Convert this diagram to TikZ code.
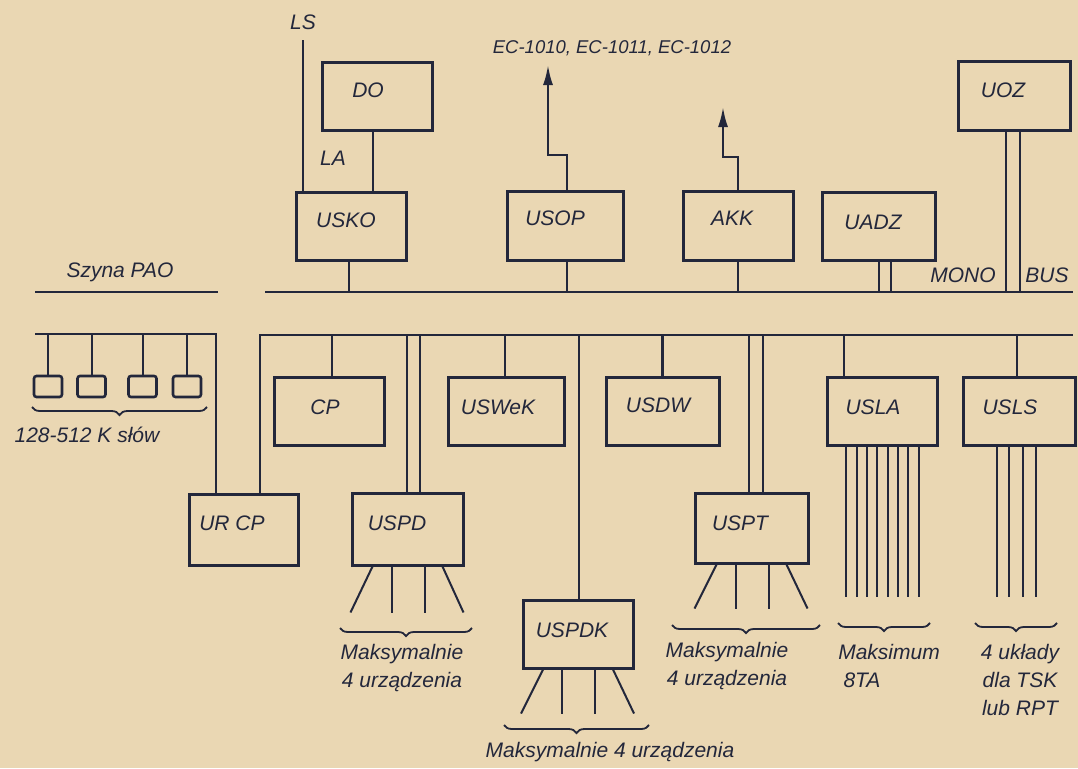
\documentclass[tikz,border=0pt]{standalone}
\usepackage{fontspec}
\setmainfont{Liberation Sans}
\usetikzlibrary{arrows.meta,decorations.pathreplacing,calc}
\definecolor{paper}{HTML}{EAD7B3}
\definecolor{ink}{HTML}{23273B}
\begin{document}
\begin{tikzpicture}[x=1pt,y=-1pt,
  lbl/.style={font=\fontsize{21}{24}\selectfont\itshape, text=ink, inner sep=0pt},
  small/.style={font=\fontsize{21}{28}\selectfont\itshape, text=ink, inner sep=0pt, align=center},
  box/.style={draw=ink, line width=3pt, rectangle, inner sep=0pt},
  membox/.style={draw=ink, line width=2.6pt, rectangle, rounded corners=2.5pt, inner sep=0pt, minimum width=28pt, minimum height=21pt},
  wire/.style={draw=ink, line width=2.3pt},
  thin/.style={draw=ink, line width=2pt},
  brc/.style={draw=ink, line width=1.8pt, decorate, decoration={brace, mirror, amplitude=8pt}},
  tip/.style={-{Latex[length=20pt,width=10pt]}}
]
\fill[paper] (0,0) rectangle (1078,768);
\useasboundingbox (0,0) rectangle (1078,768);

% ---------- upper row boxes ----------
\node[box, minimum width=110pt, minimum height=67pt] (do)   at (377,96.5) {};
\node[box, minimum width=110pt, minimum height=68pt] (usko) at (351,226) {};
\node[box, minimum width=116pt, minimum height=69pt] (usop) at (565,225.5) {};
\node[box, minimum width=110pt, minimum height=69pt] (akk)  at (738,225.5) {};
\node[box, minimum width=113pt, minimum height=68pt] (uadz) at (878.5,226) {};
\node[box, minimum width=112pt, minimum height=68pt] (uoz)  at (1014,96) {};
\node[lbl] at (368,90)  {DO};
\node[lbl] at (346,220) {USKO};
\node[lbl] at (555,218) {USOP};
\node[lbl] at (732,218) {AKK};
\node[lbl] at (873,222) {UADZ};
\node[lbl] at (1003,90) {UOZ};

% ---------- lower row boxes ----------
\node[box, minimum width=110pt, minimum height=68pt] (cp)    at (329,411) {};
\node[box, minimum width=116pt, minimum height=68pt] (uswek) at (506,411) {};
\node[box, minimum width=113pt, minimum height=68pt] (usdw)  at (662.5,411) {};
\node[box, minimum width=110pt, minimum height=68pt] (usla)  at (882,411) {};
\node[box, minimum width=112pt, minimum height=68pt] (usls)  at (1019,411) {};
\node[box, minimum width=109pt, minimum height=71pt] (urcp)  at (243.5,529.5) {};
\node[box, minimum width=111pt, minimum height=72pt] (uspd)  at (407.5,529) {};
\node[box, minimum width=113pt, minimum height=70pt] (uspt)  at (751.5,528) {};
\node[box, minimum width=110pt, minimum height=68pt] (uspdk) at (578,634) {};
\node[lbl] at (325,407) {CP};
\node[lbl] at (498,407) {USWeK};
\node[lbl] at (658,405) {USDW};
\node[lbl] at (873,407) {USLA};
\node[lbl] at (1010,407) {USLS};
\node[lbl] at (232,523) {UR CP};
\node[lbl] at (397,523) {USPD};
\node[lbl] at (740,523) {USPT};
\node[lbl] at (572,630) {USPDK};

% memory boxes
\node[membox] (m1) at (48,386.5) {};
\node[membox] (m2) at (91.5,386.5) {};
\node[membox] (m3) at (142.5,386.5) {};
\node[membox] (m4) at (187,386.5) {};

% ---------- buses ----------
\coordinate (busA0) at (265,292);
\coordinate (busA1) at (1073,292);
\coordinate (busB0) at (260,335);
\coordinate (busB1) at (1073,335);
\coordinate (pao0) at (35,292);
\coordinate (pao1) at (218,292);
\coordinate (mem0) at (35,334);
\coordinate (mem1) at (216,334);
\draw[wire] (busA0) -- (busA1);
\draw[wire] (pao0) -- (pao1);
\draw[wire] (urcp.north -| busB0) -- (busB0) -- (busB1);
\draw[wire] (mem0) -- (mem1) -- (mem1 |- urcp.north);
\node[lbl] at (120,272) {Szyna PAO};

% memory drops
\foreach \m in {m1,m2,m3,m4} \draw[thin] (\m.north) -- (\m.north |- mem0);

% ---------- upper connections ----------
\coordinate (lstop) at (303,40);
\draw[wire] (usko.north -| lstop) -- (lstop);
\node[lbl] at (303,22) {LS};
\draw[wire] ([xshift=-4pt]do.south) -- ([xshift=-4pt]do.south |- usko.north);
\node[lbl] at (333,158) {LA};
\draw[wire] ([xshift=-2pt]usko.south) -- ([xshift=-2pt]usko.south |- busA0);

\coordinate (ecend) at (548,65);
\draw[wire,tip] ([xshift=2pt]usop.north) |- (ecend |- 0,155) -- (ecend);
\node[lbl, font=\fontsize{18.5}{22}\selectfont\itshape] at (612,48) {EC-1010, EC-1011, EC-1012};
\draw[wire] ([xshift=2pt]usop.south) -- ([xshift=2pt]usop.south |- busA0);

\coordinate (akkend) at (723,107);
\draw[wire,tip] (akk.north) |- (akkend |- 0,157) -- (akkend);
\draw[wire] (akk.south) -- (akk.south |- busA0);

\draw[thin] ([xshift=0.5pt]uadz.south) -- ([xshift=0.5pt]uadz.south |- busA0);
\draw[thin] ([xshift=12.5pt]uadz.south) -- ([xshift=12.5pt]uadz.south |- busA0);

\draw[thin] ([xshift=-8pt]uoz.south) -- ([xshift=-8pt]uoz.south |- busA0);
\draw[thin] ([xshift=6pt]uoz.south) -- ([xshift=6pt]uoz.south |- busA0);
\node[lbl] at (963,275) {MONO};
\node[lbl] at (1047,275) {BUS};

% ---------- lower connections ----------
\draw[wire] ([xshift=3pt]cp.north) -- ([xshift=3pt]cp.north |- busB0);
\draw[thin] ([xshift=-0.5pt]uspd.north) -- ([xshift=-0.5pt]uspd.north |- busB0);
\draw[thin] ([xshift=12.5pt]uspd.north) -- ([xshift=12.5pt]uspd.north |- busB0);
\draw[wire] ([xshift=-1pt]uswek.north) -- ([xshift=-1pt]uswek.north |- busB0);
\draw[wire] ([xshift=1pt]uspdk.north) -- ([xshift=1pt]uspdk.north |- busB0);
\draw[wire] (usdw.north) -- (usdw.north |- busB0);
\draw[thin] ([xshift=-2.5pt]uspt.north) -- ([xshift=-2.5pt]uspt.north |- busB0);
\draw[thin] ([xshift=11.5pt]uspt.north) -- ([xshift=11.5pt]uspt.north |- busB0);
\draw[wire] ([xshift=-38pt]usla.north) -- ([xshift=-38pt]usla.north |- busB0);
\draw[wire] ([xshift=-2pt]usls.north) -- ([xshift=-2pt]usls.north |- busB0);

% fans
\foreach \b/\dy in {uspd/46, uspt/44, uspdk/44} {
  \draw[thin] ([xshift=-35pt]\b.south) -- ++(-22,\dy);
  \draw[thin] ([xshift=-16pt]\b.south) -- ++(0,\dy);
  \draw[thin] ([xshift=17pt]\b.south) -- ++(0,\dy);
  \draw[thin] ([xshift=35pt]\b.south) -- ++(21,\dy);
}
\foreach \dx in {-36,-25,-15,-5,6,16,26,37}
  \draw[thin] ([xshift=\dx pt]usla.south) -- ++(0,150);
\foreach \dx in {-22,-10,4,17}
  \draw[thin] ([xshift=\dx pt]usls.south) -- ++(0,150);

% braces
\draw[brc] (32,407) -- (207,407);
\node[lbl] at (87,435) {128-512 K słów};
\draw[brc] (340,628) -- (472,628);
\node[small] at (402,668) {Maksymalnie\\4 urządzenia};
\draw[brc] (504,725) -- (649,725);
\node[lbl] at (610,752) {Maksymalnie 4 urządzenia};
\draw[brc] (672,625) -- (820,625);
\node[small] at (727,666) {Maksymalnie\\4 urządzenia};
\draw[brc] (838,623) -- (930,623);
\node[lbl] at (889,652) {Maksimum};
\node[lbl] at (862,680) {8TA};
\draw[brc] (975,623) -- (1057,623);
\node[small] at (1020,680) {4 układy\\dla TSK\\lub RPT};
\end{tikzpicture}
\end{document}
